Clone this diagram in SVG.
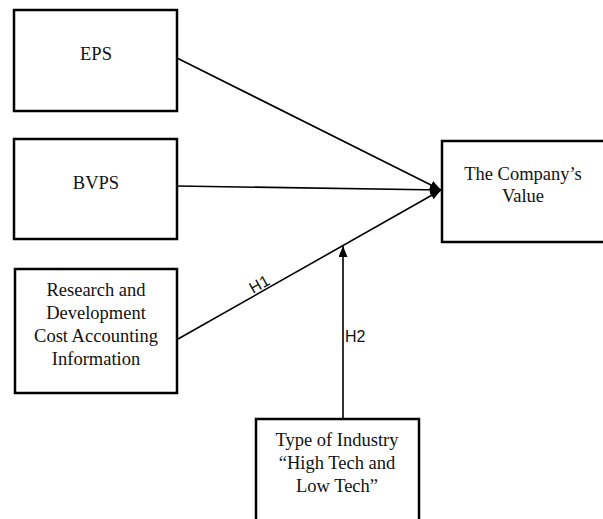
<svg xmlns="http://www.w3.org/2000/svg" width="603" height="519" viewBox="0 0 603 519">
<defs>
<style>
.box{fill:#fff;stroke:#000;stroke-width:2.5}
.t{font-family:"Liberation Serif","Times New Roman",serif;font-size:18.5px;fill:#111;text-anchor:middle}
.lbl{font-family:"Liberation Sans",Arial,sans-serif;font-size:16px;fill:#111}
.ln{stroke:#000;stroke-width:1.6;fill:none}
</style>
<marker id="ah" markerUnits="userSpaceOnUse" markerWidth="12" markerHeight="10" refX="11" refY="4.5" orient="auto">
<path d="M0,0 L11,4.5 L0,9 z" fill="#000"/>
</marker>
</defs>
<rect width="603" height="519" fill="#fff"/>
<g id="connectors">
<line class="ln" x1="177" y1="58" x2="441" y2="190" marker-end="url(#ah)"/>
<line class="ln" x1="177" y1="186" x2="441" y2="190" marker-end="url(#ah)"/>
<line class="ln" x1="178" y1="339" x2="441" y2="190" marker-end="url(#ah)"/>
<line class="ln" x1="343" y1="419" x2="343" y2="246" marker-end="url(#ah)"/>
<text class="lbl" text-anchor="middle" transform="translate(262,289) rotate(-29.5)">H1</text>
<text class="lbl" x="345" y="342">H2</text>
</g>
<g id="eps">
<rect class="box" x="14" y="10" width="163" height="101"/>
<text class="t" x="96" y="60">EPS</text>
</g>
<g id="bvps">
<rect class="box" x="14" y="139" width="163" height="100"/>
<text class="t" x="96" y="189">BVPS</text>
</g>
<g id="rnd">
<rect class="box" x="15" y="269" width="162" height="124"/>
<text class="t" x="96" y="296">Research and</text>
<text class="t" x="96" y="319">Development</text>
<text class="t" x="96" y="342">Cost Accounting</text>
<text class="t" x="96" y="365">Information</text>
</g>
<g id="value">
<rect class="box" x="442" y="141" width="170" height="101"/>
<text class="t" x="523" y="180">The Company’s</text>
<text class="t" x="523" y="202">Value</text>
</g>
<g id="industry">
<rect class="box" x="256" y="419" width="163" height="110"/>
<text class="t" x="337" y="446">Type of Industry</text>
<text class="t" x="337" y="469">“High Tech and</text>
<text class="t" x="337" y="492">Low Tech”</text>
</g>
</svg>
